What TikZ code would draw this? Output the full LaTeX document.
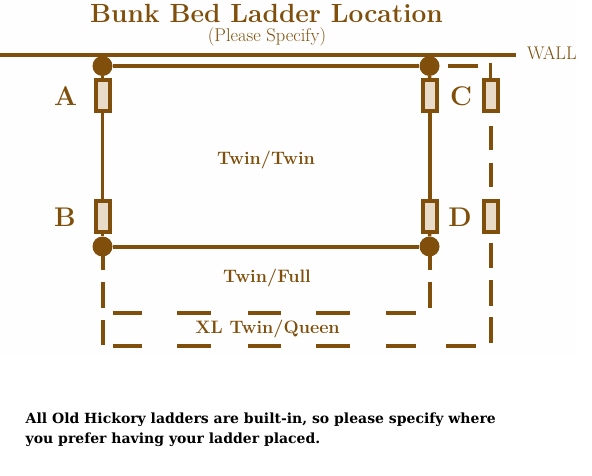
\documentclass[tikz,border=0pt]{standalone}
\usepackage{fontspec}
\newfontfamily\slabfont{DejaVu Serif}
\definecolor{brn}{RGB}{127,79,11}
\definecolor{rungfill}{RGB}{232,220,200}
\definecolor{bgpale}{RGB}{254,254,254}
\begin{document}
\begin{tikzpicture}[x=1pt,y=-1pt,
  bedline/.style={draw=brn,line width=4pt},
  stem/.style={draw=brn,line width=3.5pt},
  dashline/.style={draw=brn,line width=4pt},
  post/.style={circle,fill=brn,inner sep=0pt,minimum size=20pt},
  rung/.style={rectangle,draw=brn,fill=rungfill,line width=4pt,inner sep=0pt,minimum width=14pt,minimum height=31pt},
  letter/.style={text=brn,font=\fontsize{27}{27}\selectfont\bfseries},
  bedlabel/.style={text=brn,font=\fontsize{18}{18}\selectfont\bfseries},
  notetext/.style={anchor=base west,inner sep=0pt,font=\slabfont\bfseries\fontsize{14}{14}\selectfont}]
\useasboundingbox (0,0) rectangle (592,476);
\fill[bgpale] (0,0) rectangle (577,357);

% title
\node[anchor=base,text=brn,font=\fontsize{26.3}{26.3}\selectfont\bfseries] (title) at (266.5,22.7) {Bunk Bed Ladder Location};
\node[anchor=base,text=brn,font=\fontsize{18.5}{18.5}\selectfont] (sub) at (267,42) {(Please Specify)};

% wall
\coordinate (wallL) at (0,55);
\coordinate (wallR) at (516,55);
\draw[brn,line width=4.6pt] (wallL) -- (wallR);
\node[anchor=base west,text=brn,font=\fontsize{18.3}{18.3}\selectfont,inner sep=0pt] (wall) at (527,59.5) {WALL};

% corner posts
\node[post] (tl) at (102.5,66) {};
\node[post] (tr) at (429.5,66) {};
\node[post] (bl) at (102.5,246.5) {};
\node[post] (br) at (429.5,246.5) {};

% rungs
\node[rung] (A) at (102.5,96) {};
\node[rung] (B) at (102.5,216.5) {};
\node[rung] (C) at (430,96) {};
\node[rung] (D) at (430,216.5) {};
\node[rung] (C2) at (490.5,96) {};
\node[rung] (D2) at (490.5,216.5) {};

% bed frame
\draw[bedline] (tl) -- (tr);
\draw[bedline] (bl) -- (br);
\draw[stem] (tl) -- (A);
\draw[stem] (A) -- (B);
\draw[stem] (B) -- (bl);
\draw[stem] (tr) -- (C);
\draw[stem] (C) -- (D);
\draw[stem] (D) -- (br);

% dashed extensions
\coordinate (lend) at (102.5,345);
\coordinate (rend) at (429.5,308);
\draw[dashline,dash pattern=on 23.5pt off 11.5pt on 26.5pt off 12pt on 25pt off 100pt] (bl.center) -- (lend);
\draw[dashline,dash pattern=on 23.5pt off 11.5pt on 26.5pt off 100pt] (br.center) -- (rend);

\coordinate (qTL) at (112.7,313);
\coordinate (qTR) at (416,313);
\coordinate (qBL) at (112.7,345.5);
\coordinate (qBR) at (475.7,345.5);
\draw[dashline,dash pattern=on 29.6pt off 35pt on 33.4pt off 37.6pt on 32.4pt off 35.3pt on 34pt off 36pt on 30pt off 100pt] (qTL) -- (qTR);
\draw[dashline,dash pattern=on 29.6pt off 35pt on 33.4pt off 37.6pt on 32.4pt off 35.3pt on 34pt off 36pt on 30pt off 30pt on 29.7pt off 100pt] (qBL) -- (qBR);

% outer right frame
\coordinate (oTopL) at (447.7,66);
\coordinate (oTopR) at (477.7,66);
\coordinate (oStem) at (490.5,62.7);
\coordinate (oEnd) at (490.5,343.3);
\draw[dashline] (oTopL) -- (oTopR);
\draw[stem] (oStem) -- (C2);
\draw[dashline,dash pattern=on 24pt off 13pt,dash phase=24pt] (C2) -- (D2);
\draw[dashline,dash pattern=on 25pt off 12pt on 26pt off 11pt on 26pt off 9pt,dash phase=100pt] (D2) -- (oEnd);

% letters
\node[letter] (la) at (65.5,96) {A};
\node[letter] (lb) at (65,217.5) {B};
\node[letter] (lc) at (461,96) {C};
\node[letter] (ld) at (460,217.5) {D};

% bed labels
\node[bedlabel] (tt) at (266,160) {Twin/Twin};
\node[bedlabel] (tf) at (267,278) {Twin/Full};
\node[bedlabel] (xq) at (267.5,329) {XL Twin/Queen};

% note
\node[notetext] (note1) at (25.5,423) {All Old Hickory ladders are built-in, so please specify where};
\node[notetext] (note2) at (25.5,443) {you prefer having your ladder placed.};
\end{tikzpicture}
\end{document}
